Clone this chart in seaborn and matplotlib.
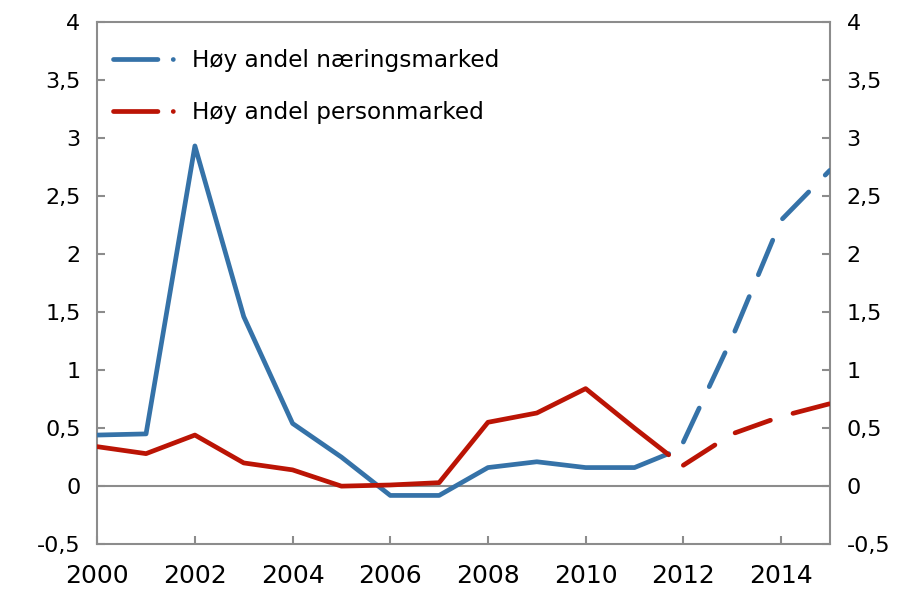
import pandas as pd
import seaborn as sns
import matplotlib.pyplot as plt
from matplotlib.lines import Line2D

# Data
years_hist = [2000, 2001, 2002, 2003, 2004, 2005, 2006, 2007, 2008, 2009, 2010, 2011, 2011.7]
naering_hist = [0.44, 0.45, 2.93, 1.46, 0.54, 0.25, -0.08, -0.08, 0.16, 0.21, 0.16, 0.16, 0.28]
person_hist = [0.34, 0.28, 0.44, 0.20, 0.14, 0.00, 0.01, 0.03, 0.55, 0.63, 0.84, 0.50, 0.27]

years_proj = [2012, 2013, 2014, 2015]
naering_proj = [0.38, 1.28, 2.29, 2.72]
person_proj = [0.18, 0.45, 0.60, 0.71]

labels = ['Høy andel næringsmarked', 'Høy andel personmarked']
blue = '#3572a8'
red = '#bb1405'
grey = '#8c8c8c'

sns.set_theme(style="white")
plt.rcParams['font.family'] = ['DejaVu Sans']
plt.rcParams['lines.scale_dashes'] = False
plt.rcParams['text.color'] = 'black'
plt.rcParams['xtick.labelcolor'] = 'black'
plt.rcParams['ytick.labelcolor'] = 'black'

hist = pd.DataFrame({'year': years_hist, 'naering': naering_hist, 'person': person_hist})
proj = pd.DataFrame({'year': years_proj, 'naering': naering_proj, 'person': person_proj})

fig, ax = plt.subplots(figsize=(9.17, 6.02), dpi=100)
fig.subplots_adjust(left=0.106, right=0.905, top=0.964, bottom=0.096)

ax.axhline(0, color=grey, lw=1.5, zorder=1)

lw = 3.4
dash = (0, (27, 17))
sns.lineplot(data=hist, x='year', y='naering', color=blue, lw=lw, ax=ax, zorder=3)
sns.lineplot(data=hist, x='year', y='person', color=red, lw=lw, ax=ax, zorder=3)
sns.lineplot(data=proj, x='year', y='naering', color=blue, lw=lw, ax=ax, zorder=3,
             linestyle=dash, dash_capstyle='round')
sns.lineplot(data=proj, x='year', y='person', color=red, lw=lw, ax=ax, zorder=3,
             linestyle=dash, dash_capstyle='round')

ax.set_xlim(2000, 2015)
ax.set_ylim(-0.5, 4)
ax.set_xlabel('')
ax.set_ylabel('')

yt = [-0.5, 0, 0.5, 1, 1.5, 2, 2.5, 3, 3.5, 4]
ax.set_yticks(yt)
ax.set_yticklabels([f'{v:g}'.replace('.', ',') for v in yt])
ax.set_xticks(range(2000, 2015, 2))
ax.set_xticklabels([str(y) for y in range(2000, 2015, 2)])

ax.tick_params(axis='y', which='both', direction='in', length=6, width=1.5, color=grey,
               left=True, right=True, labelleft=True, labelright=True,
               labelsize=16, pad=12, labelcolor='black')
ax.tick_params(axis='x', direction='in', length=6, width=1.5, color=grey,
               bottom=True, labelsize=18, pad=14, labelcolor='black')

for s in ax.spines.values():
    s.set_color(grey)
    s.set_linewidth(1.5)

legend_style = (0, (32, 11, 0.1, 200))
handles = [Line2D([0], [0], color=blue, lw=lw, linestyle=legend_style, dash_capstyle='round'),
           Line2D([0], [0], color=red, lw=lw, linestyle=legend_style, dash_capstyle='round')]
ax.legend(handles, labels, loc='upper left', bbox_to_anchor=(0.022, 0.947),
          frameon=False, fontsize=16.7, handlelength=2.8, handletextpad=0.6,
          labelspacing=1.25, borderpad=0, borderaxespad=0, labelcolor='black')

plt.savefig('out.png', dpi=100)
